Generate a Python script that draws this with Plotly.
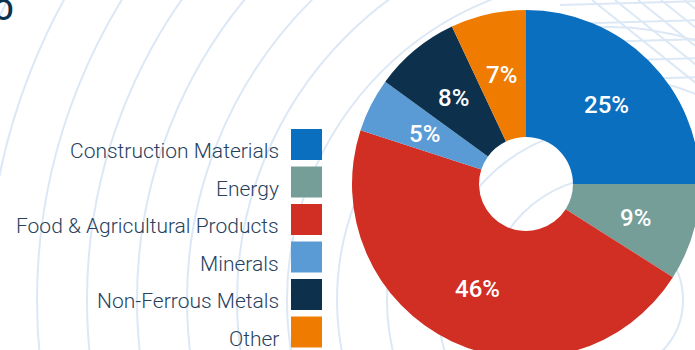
import math
import plotly.graph_objects as go

# Canvas (slightly larger than the viewport so the donut bleeds off the right/bottom edges)
W, H = 708, 362

# ---- data ----
categories = [
    "Construction Materials",
    "Energy",
    "Food & Agricultural Products",
    "Minerals",
    "Non-Ferrous Metals",
    "Other",
]
shares = [25, 9, 46, 5, 8, 7]
colors = ["#0B6FC0", "#749E97", "#D12E24", "#5B9BD5", "#0D314C", "#EF7B00"]

# ---- layout constants (pixels) ----
PIE_CX, PIE_CY, PIE_R, HOLE = 526, 184, 174, 0.27
LABEL_R = 114  # radius at which the percentage labels sit
KEY_X, KEY_Y0, KEY_STEP, KEY_SIZE = 306.5, 144.5, 37.5, 31
LABEL_RIGHT = 280
TEXT_COLOR = "#28425E"
GRID_COLOR = "#DCE8F5"

# decorative globe lines behind the chart
RING_CX, RING_CY = 610, 300
ring_radii = [73 + 50 * k for k in range(14)]
parallel_y = [5, 24, 43, 62, 81]
meridian_x = [592, 615, 638, 661, 684, 707]


def px_x(x):
    return x / W


def px_y(y):
    return 1 - y / H


fig = go.Figure()

fig.add_trace(
    go.Pie(
        labels=categories,
        values=shares,
        hole=HOLE,
        sort=False,
        direction="clockwise",
        rotation=0,
        marker=dict(colors=colors, line=dict(width=0)),
        textinfo="none",
        domain=dict(
            x=[px_x(PIE_CX - PIE_R), px_x(PIE_CX + PIE_R)],
            y=[px_y(PIE_CY + PIE_R), px_y(PIE_CY - PIE_R)],
        ),
        showlegend=False,
        hoverinfo="label+percent",
    )
)

# legend keys: one square per category, placed on a row axis
rows = list(range(len(categories)))
fig.add_trace(
    go.Scatter(
        x=[0] * len(categories),
        y=rows,
        mode="markers",
        marker=dict(symbol="square", size=KEY_SIZE, color=colors, line=dict(width=0)),
        showlegend=False,
        hoverinfo="skip",
        cliponaxis=False,
    )
)

annotations = []
for i, name in enumerate(categories):
    annotations.append(
        dict(
            text=name,
            x=px_x(LABEL_RIGHT),
            xref="paper",
            xanchor="right",
            y=i,
            yref="y",
            yanchor="middle",
            yshift=-6.5,
            showarrow=False,
            borderpad=0,
            font=dict(family="Roboto Light, Roboto", size=21, color=TEXT_COLOR, weight=300),
        )
    )

# percentage labels at the middle angle of each slice (clockwise from 12 o'clock)
total = sum(shares)
cum = 0
for v in shares:
    mid = (cum + v / 2) / total
    cum += v
    ang = 2 * math.pi * mid
    annotations.append(
        dict(
            text=f"{round(100 * v / total)}%",
            x=px_x(PIE_CX + LABEL_R * math.sin(ang)),
            y=px_y(PIE_CY - LABEL_R * math.cos(ang)),
            xref="paper",
            yref="paper",
            xanchor="center",
            yanchor="middle",
            yshift=-2,
            showarrow=False,
            borderpad=0,
            font=dict(family="Roboto", size=24, color="white", weight=500),
        )
    )

# tail of the heading that runs off the top-left corner
annotations.append(
    dict(
        text="O",
        x=px_x(15),
        xref="paper",
        xanchor="right",
        y=1,
        yref="paper",
        yanchor="top",
        yshift=9,
        showarrow=False,
        borderpad=0,
        font=dict(family="Roboto", size=30, color="#0E314D", weight=500),
    )
)

shapes = []
for r in ring_radii:
    shapes.append(
        dict(
            type="circle",
            xref="paper",
            yref="paper",
            x0=px_x(RING_CX - r),
            x1=px_x(RING_CX + r),
            y0=px_y(RING_CY + r),
            y1=px_y(RING_CY - r),
            line=dict(color=GRID_COLOR, width=2),
            layer="below",
        )
    )
for y0 in parallel_y:
    shapes.append(
        dict(
            type="line",
            xref="paper",
            yref="paper",
            x0=px_x(560),
            x1=px_x(W),
            y0=px_y(y0),
            y1=px_y(y0 - 4),
            line=dict(color=GRID_COLOR, width=2),
            layer="below",
        )
    )
for x0 in meridian_x:
    shapes.append(
        dict(
            type="line",
            xref="paper",
            yref="paper",
            x0=px_x(x0),
            x1=px_x(x0 + 125),
            y0=px_y(0),
            y1=px_y(100),
            line=dict(color=GRID_COLOR, width=2),
            layer="below",
        )
    )

fig.update_layout(
    width=W,
    height=H,
    margin=dict(l=0, r=0, t=0, b=0),
    paper_bgcolor="white",
    plot_bgcolor="rgba(0,0,0,0)",
    xaxis=dict(range=[-KEY_X, W - KEY_X], visible=False, fixedrange=True),
    yaxis=dict(
        range=[(H - KEY_Y0) / KEY_STEP, -KEY_Y0 / KEY_STEP],
        visible=False,
        fixedrange=True,
    ),
    annotations=annotations,
    shapes=shapes,
)

fig.write_html(
    "out.html",
    config=dict(displayModeBar=False),
    post_script=(
        "document.body.style.margin='0';"
        "document.body.style.overflow='hidden';"
        "document.documentElement.style.overflow='hidden';"
    ),
)
